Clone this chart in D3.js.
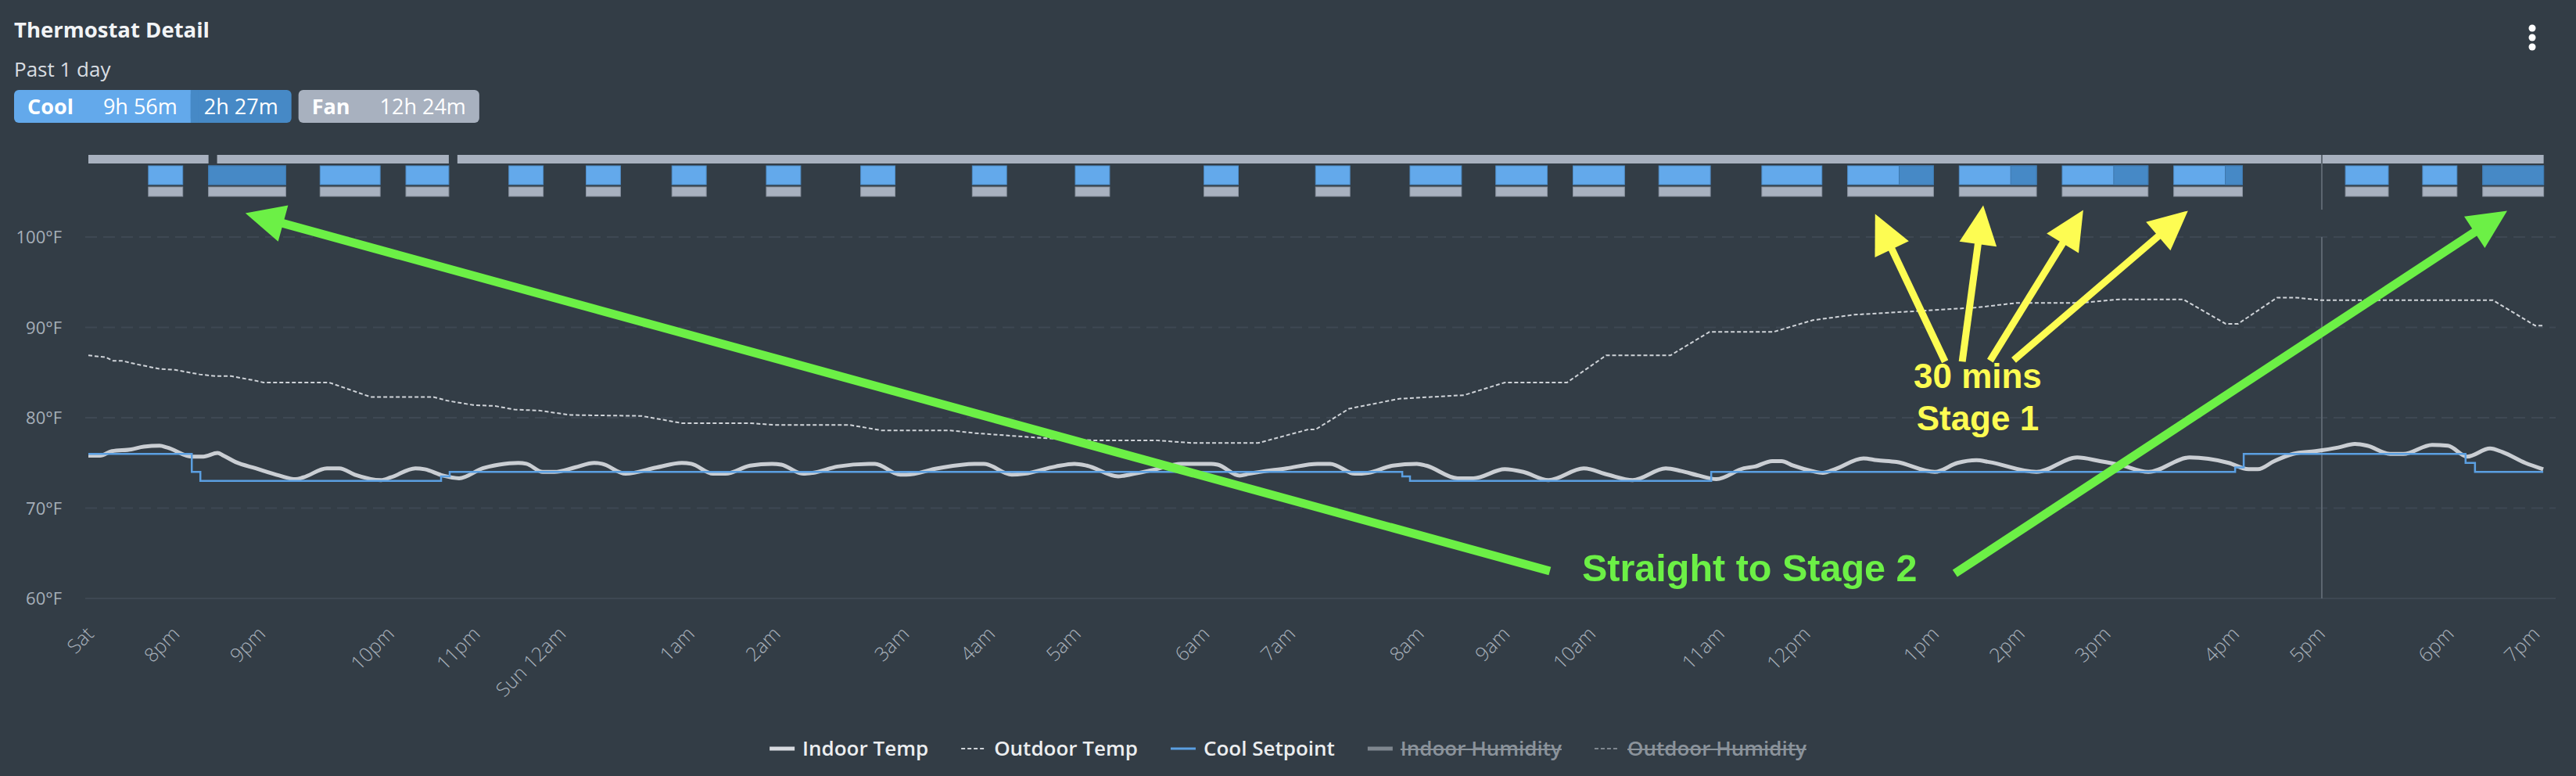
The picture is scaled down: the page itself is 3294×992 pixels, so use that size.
<!DOCTYPE html>
<html>
<head>
<meta charset="utf-8">
<script src="https://cdn.jsdelivr.net/npm/d3@7"></script>
<style>
  html, body { margin: 0; padding: 0; background: #333d46; }
  svg { display: block; font-family: "Open Sans", sans-serif; }
</style>
</head>
<body>
<div id="myViz"></div>
<script>
// ---- data (x values are positions along the time axis, in axis steps) ----
var tickSlots = [0, 2, 4, 7, 9, 11, 14, 16, 19, 21, 23, 26, 28, 31, 33, 35, 38, 40, 43, 45, 47, 50, 52, 55, 57];
var tickLabels = ["Sat", "8pm", "9pm", "10pm", "11pm", "Sun 12am", "1am", "2am", "3am", "4am", "5am", "6am",
                  "7am", "8am", "9am", "10am", "11am", "12pm", "1pm", "2pm", "3pm", "4pm", "5pm", "6pm", "7pm"];
var tempTicks = [60, 70, 80, 90, 100];

var indoorTemp = [
  [0, 75.8], [0.27, 75.8], [0.55, 76.3], [1.00, 76.5], [1.29, 76.8], [1.66, 76.9], [1.84, 76.7], [2.41, 75.7],
  [2.68, 75.7], [3.01, 76.1], [3.15, 75.8], [3.43, 75.1], [3.90, 74.4], [4.45, 73.6], [4.83, 73.2], [5.01, 73.4],
  [5.56, 74.4], [5.85, 74.4], [6.21, 73.7], [6.82, 73.1], [7.05, 73.4], [7.62, 74.4], [7.84, 74.3], [8.26, 73.6],
  [8.64, 73.3], [9.19, 74.4], [9.57, 74.8], [10.02, 75.0], [10.21, 74.9], [10.59, 74.0], [10.86, 74.0], [11.34, 74.5],
  [11.79, 75.0], [11.97, 74.9], [12.52, 73.8], [13.25, 74.5], [13.83, 75.0], [14.05, 74.9], [14.56, 73.8], [14.85, 73.8],
  [15.42, 74.7], [15.93, 74.9], [16.15, 74.8], [16.66, 73.8], [16.88, 73.9], [17.46, 74.6], [18.19, 74.9], [18.33, 74.9],
  [18.92, 73.7], [19.06, 73.7], [19.79, 74.4], [20.65, 74.9], [20.87, 74.9], [21.52, 73.7], [21.82, 73.8], [22.54, 74.6],
  [22.98, 74.9], [23.27, 74.7], [24.00, 73.5], [24.15, 73.6], [24.88, 74.3], [25.46, 74.9], [26.17, 74.9], [26.32, 74.8],
  [26.83, 73.6], [27.05, 73.8], [27.92, 74.4], [28.65, 74.9], [28.94, 74.9], [29.52, 73.8], [29.82, 73.9], [30.40, 74.7],
  [30.96, 74.9], [31.18, 74.7], [31.91, 73.3], [32.28, 73.3], [33.01, 74.3], [33.44, 74.0], [34.03, 73.1], [34.85, 74.4],
  [35.41, 73.7], [35.99, 73.1], [36.76, 74.4], [37.12, 74.1], [37.53, 73.6], [37.94, 73.2], [38.58, 74.4], [38.84, 74.6],
  [39.24, 75.2], [39.46, 75.2], [39.73, 74.7], [40.17, 74.1], [40.42, 73.9], [40.70, 74.3], [41.37, 75.5], [41.68, 75.3],
  [42.14, 75.1], [43.03, 74.0], [43.56, 75.0], [44.00, 75.3], [44.29, 75.1], [45.40, 74.0], [46.35, 75.6], [46.88, 75.2],
  [47.33, 74.8], [48.01, 74.0], [48.97, 75.6], [49.88, 75.0], [50.34, 74.3], [50.56, 74.3], [50.94, 75.2], [51.38, 76.0],
  [51.90, 76.3], [52.43, 76.7], [52.82, 77.1], [53.11, 76.9], [53.64, 76.0], [53.95, 76.0], [54.62, 77.0], [54.99, 76.9],
  [55.44, 75.7], [55.97, 76.6], [56.26, 76.2], [56.79, 75.0], [57.21, 74.3]
];

var outdoorTemp = [
  [0, 86.9], [0.40, 86.7], [0.58, 86.3], [0.78, 86.3], [1.15, 85.9], [1.66, 85.4], [2.02, 85.3], [2.59, 84.8],
  [2.97, 84.6], [3.33, 84.6], [3.90, 84.1], [4.08, 83.9], [5.61, 83.9], [6.58, 82.3], [8.04, 82.3], [8.35, 81.9],
  [8.97, 81.4], [9.48, 81.3], [9.93, 80.9], [10.50, 80.8], [11.24, 80.3], [12.89, 80.2], [13.83, 79.4], [15.42, 79.4],
  [16.00, 79.2], [17.75, 79.2], [18.48, 78.6], [20.08, 78.6], [20.65, 78.3], [21.52, 78.0], [22.40, 77.7], [23.42, 77.5],
  [24.88, 77.5], [25.73, 77.2], [27.26, 77.2], [28.43, 78.7], [28.60, 78.7], [29.38, 81.0], [30.55, 82.1], [32.06, 82.5],
  [33.01, 83.9], [34.46, 83.9], [35.37, 86.9], [36.87, 86.9], [37.78, 89.5], [39.27, 89.5], [40.19, 90.8], [41.15, 91.4],
  [42.96, 91.9], [44.01, 92.2], [44.93, 92.7], [46.42, 92.7], [47.33, 93.1], [48.82, 93.1], [49.81, 90.4], [50.10, 90.4],
  [51.01, 93.3], [51.45, 93.3], [52.05, 93.0], [56.04, 93.0], [57.02, 90.2], [57.21, 90.2]
];

var coolSetpoint = [
  [0, 76], [2.41, 74], [2.61, 73], [8.22, 73.5], [8.42, 74], [30.62, 73.5], [30.80, 73], [37.82, 74],
  [50.03, 74.5], [50.23, 76], [55.40, 75], [55.62, 74], [57.21, 74]
];

// equipment runtime
var fanStart = [0, 3.0, 8.6];
var fanEnd = [2.8, 8.4, 57.22];
var coolStart = [1.4, 2.8, 5.4, 7.4, 9.8, 11.6, 13.6, 15.8, 18.0, 20.6, 23.0, 26.0, 28.6, 30.8, 32.8, 34.6, 36.6,
                 39.0, 41.0, 43.6, 46.0, 48.6, 52.6, 54.4, 55.8];
var coolEnd = [2.2, 4.6, 6.8, 8.4, 10.6, 12.4, 14.4, 16.6, 18.8, 21.4, 23.8, 26.8, 29.4, 32.0, 34.0, 35.8, 37.8,
               40.4, 43.0, 45.4, 48.0, 50.2, 53.6, 55.2, 57.22];
// where stage 2 kicked in within each cool cycle (null = stage 1 only)
var stage2Start = [null, 2.8, null, null, null, null, null, null, null, null, null, null, null, null, null, null, null,
                   null, 42.2, 44.8, 47.2, 49.8, null, null, 55.8];

var nowSlot = 52.05;

var runtimeSummary = {cool1: "9h 56m", cool2: "2h 27m", fan: "12h 24m"};

var legendNames = ["Indoor Temp", "Outdoor Temp", "Cool Setpoint", "Indoor Humidity", "Outdoor Humidity"];
var legendHidden = [false, false, false, true, true];

// callouts drawn on top of the chart, in chart units [slot, temp]
var greenArrows = [[[34.06, 63.03], [3.66, 102.65]], [[43.50, 62.77], [56.37, 102.91]]];
var yellowArrows = [[[43.27, 86.21], [41.64, 102.56]], [[43.67, 86.21], [44.16, 103.51]],
                    [[44.32, 86.30], [46.49, 102.99]], [[44.87, 86.38], [48.93, 102.91]]];
var greenNote = {text: "Straight to Stage 2", at: [34.81, 61.9]};
var yellowNote = {lines: ["30 mins", "Stage 1"], at: [44.03, 83.27], lineGap: 54};

// ---- layout ----
var W = 3294, H = 992;
var plotLeft = 113, plotRight = 3268, plotBottom = 765, plotTop = 303;
var C = {
  bg: "#333d46", grid: "#3e4853", axisText: "#a7b0ba", light: "#63a9eb", dark: "#4689c6",
  grey: "#a8b1bf", indoor: "#d7dadf", outdoor: "#cfd3d8", setpoint: "#5b9fe1", now: "#5d6771"
};

var svg = d3.select("#myViz").append("svg")
  .attr("width", W).attr("height", H)
  .style("background", C.bg);

var x = d3.scaleLinear().domain([0, 57.5]).range([plotLeft, plotRight]);
var y = d3.scaleLinear().domain([60, 100]).range([plotBottom, plotTop]);

// header
svg.append("text").attr("x", 18).attr("y", 48)
  .attr("font-size", 27.5).attr("font-weight", 700).attr("fill", "#f2f4f6")
  .text("Thermostat Detail");
svg.append("text").attr("x", 18).attr("y", 98)
  .attr("font-size", 26).attr("fill", "#d9dde2")
  .text("Past 1 day");

// runtime pills
var pills = svg.append("g").attr("font-size", 27).attr("fill", "#fff");
function pillText(txt, px, bold) {
  var t = pills.append("text").attr("x", px).attr("y", 146).attr("font-weight", bold ? 700 : 400).text(txt);
  return t.node().getComputedTextLength();
}
var pillY = 115, pillH = 42, pad = 17, gap = 38;
var cx0 = 18;
var coolBg = pills.append("rect").attr("y", pillY).attr("height", pillH).attr("rx", 6).attr("fill", C.light);
var darkBg = pills.append("rect").attr("y", pillY).attr("height", pillH).attr("rx", 6).attr("fill", C.dark);
var darkSq = pills.append("rect").attr("y", pillY).attr("height", pillH).attr("fill", C.dark);
var w1 = pillText("Cool", cx0 + pad, true);
var v1x = cx0 + pad + w1 + gap;
var w2 = pillText(runtimeSummary.cool1, v1x, false);
var splitX = v1x + w2 + pad;
var w3 = pillText(runtimeSummary.cool2, splitX + pad, false);
var coolEndX = splitX + pad + w3 + pad;
coolBg.attr("x", cx0).attr("width", splitX - cx0 + 8);
darkBg.attr("x", splitX).attr("width", coolEndX - splitX);
darkSq.attr("x", splitX).attr("width", 10);
var fx0 = coolEndX + 9;
var fanBg = pills.append("rect").attr("y", pillY).attr("height", pillH).attr("rx", 6).attr("fill", C.grey);
var w4 = pillText("Fan", fx0 + pad, true);
var w5 = pillText(runtimeSummary.fan, fx0 + pad + w4 + gap, false);
fanBg.attr("x", fx0).attr("width", pad + w4 + gap + w5 + pad);
pills.selectAll("text").raise();

// menu dots
svg.append("g").selectAll("circle").data([36, 48, 60]).join("circle")
  .attr("cx", 3238).attr("cy", d => d).attr("r", 4.5).attr("fill", "#fff");

// equipment rows
var rows = {fan: [198, 11], cool: [212, 24], call: [239, 12]};
var bars = svg.append("g");
bars.selectAll(".fan").data(fanStart).join("rect")
  .attr("x", d => x(d)).attr("width", (d, i) => x(fanEnd[i]) - x(d))
  .attr("y", rows.fan[0]).attr("height", rows.fan[1]).attr("fill", C.grey);
bars.selectAll(".cool").data(coolStart).join("rect")
  .attr("x", d => x(d)).attr("width", (d, i) => x(coolEnd[i]) - x(d))
  .attr("y", rows.cool[0]).attr("height", rows.cool[1]).attr("fill", C.light)
  .attr("stroke", "#4f8dc7").attr("stroke-width", 1);
bars.selectAll(".stage2").data(coolStart.map((d, i) => i).filter(i => stage2Start[i] != null)).join("rect")
  .attr("x", i => x(stage2Start[i])).attr("width", i => x(coolEnd[i]) - x(stage2Start[i]))
  .attr("y", rows.cool[0]).attr("height", rows.cool[1]).attr("fill", C.dark)
  .attr("stroke", "#3f78ad").attr("stroke-width", 1);
bars.selectAll(".call").data(coolStart).join("rect")
  .attr("x", d => x(d)).attr("width", (d, i) => x(coolEnd[i]) - x(d))
  .attr("y", rows.call[0]).attr("height", rows.call[1]).attr("fill", C.grey)
  .attr("stroke", "#8a93a0").attr("stroke-width", 1);

// grid
var grid = svg.append("g");
grid.selectAll("line").data(tempTicks).join("line")
  .attr("x1", plotLeft - 4).attr("x2", plotRight)
  .attr("y1", d => y(d)).attr("y2", d => y(d))
  .attr("stroke", C.grid).attr("stroke-width", 2)
  .attr("stroke-dasharray", d => d === 60 ? null : "15,8");

// y axis
var yAxis = svg.append("g").attr("transform", `translate(${plotLeft},0)`)
  .call(d3.axisLeft(y).tickValues(tempTicks).tickFormat(d => d + "°F").tickSize(0).tickPadding(34));
yAxis.select(".domain").remove();
yAxis.attr("font-family", null).attr("font-size", 22);
yAxis.selectAll("text").attr("fill", "#a6afb9").attr("dy", "0.36em");

// x axis
var xAxis = svg.append("g").attr("transform", `translate(0,${plotBottom})`)
  .call(d3.axisBottom(x).tickValues(tickSlots).tickFormat((d, i) => tickLabels[i]).tickSize(0));
xAxis.select(".domain").remove();
xAxis.attr("font-family", null).attr("font-size", 25);
xAxis.selectAll("text")
  .attr("fill", C.axisText).attr("font-weight", 300)
  .attr("y", 0).attr("dy", 0).attr("text-anchor", "end")
  .attr("transform", "translate(8,47) rotate(-45)");

// now marker
svg.append("g").selectAll("line").data([[198, 268], [303, plotBottom]]).join("line")
  .attr("x1", x(nowSlot)).attr("x2", x(nowSlot))
  .attr("y1", d => d[0]).attr("y2", d => d[1])
  .attr("stroke", C.now).attr("stroke-width", 2);

// series
svg.append("path").datum(outdoorTemp)
  .attr("d", d3.line().x(d => x(d[0])).y(d => y(d[1])))
  .attr("fill", "none").attr("stroke", C.outdoor).attr("stroke-width", 2).attr("stroke-dasharray", "5,3");
svg.append("path").datum(indoorTemp)
  .attr("d", d3.line().x(d => x(d[0])).y(d => y(d[1])).curve(d3.curveMonotoneX))
  .attr("fill", "none").attr("stroke", C.indoor).attr("stroke-width", 5)
  .attr("stroke-linejoin", "round").attr("stroke-opacity", 0.92);
svg.append("path").datum(coolSetpoint)
  .attr("d", d3.line().x(d => x(d[0])).y(d => y(d[1])).curve(d3.curveStepAfter))
  .attr("fill", "none").attr("stroke", C.setpoint).attr("stroke-width", 2.5);

// legend
var legend = svg.append("g").attr("font-size", 26).attr("font-weight", 600);
var lx = 0;
var swatchStyles = [
  {w: 5, dash: null}, {w: 2, dash: "5,3"}, {w: 3, dash: null}, {w: 5, dash: null}, {w: 2, dash: "5,3"}
];
var swatchColors = [C.indoor, C.outdoor, C.setpoint, "#7f878f", "#7f878f"];
legendNames.forEach(function(name, i) {
  var g = legend.append("g").attr("transform", `translate(${lx},0)`);
  g.append("line").attr("x1", 0).attr("x2", 32).attr("y1", 0).attr("y2", 0)
    .attr("stroke", swatchColors[i]).attr("stroke-width", swatchStyles[i].w)
    .attr("stroke-dasharray", swatchStyles[i].dash);
  var t = g.append("text").attr("x", 42).attr("y", 9)
    .attr("fill", legendHidden[i] ? "#8b939b" : "#eceef0").text(name);
  var tw = t.node().getComputedTextLength();
  if (legendHidden[i]) {
    g.append("line").attr("x1", 42).attr("x2", 42 + tw).attr("y1", 1).attr("y2", 1)
      .attr("stroke", "#8b939b").attr("stroke-width", 2);
  }
  lx += 42 + tw + 42;
});
lx -= 42;
legend.attr("transform", `translate(${W / 2 - lx / 2},957)`);

// callouts
var notes = svg.append("g").attr("font-family", "'Liberation Sans', Arial, sans-serif").attr("font-weight", 700);
function arrow(g, pair, color, shaft) {
  var p0 = [x(pair[0][0]), y(pair[0][1])], p1 = [x(pair[1][0]), y(pair[1][1])];
  var dx = p1[0] - p0[0], dy = p1[1] - p0[1], len = Math.hypot(dx, dy);
  var ux = dx / len, uy = dy / len, L = 50, hw = 24;
  var bx = p1[0] - ux * L, by = p1[1] - uy * L;
  g.append("line").attr("x1", p0[0]).attr("y1", p0[1]).attr("x2", bx + ux * 4).attr("y2", by + uy * 4)
    .attr("stroke", color).attr("stroke-width", shaft);
  g.append("path")
    .attr("d", d3.line()([p1, [bx - uy * hw, by + ux * hw], [bx + uy * hw, by - ux * hw]]) + "Z")
    .attr("fill", color);
}
greenArrows.forEach(p => arrow(notes, p, "#6cf046", 11));
yellowArrows.forEach(p => arrow(notes, p, "#fdfc52", 9));
notes.append("text").attr("x", x(greenNote.at[0])).attr("y", y(greenNote.at[1]))
  .attr("font-size", 48.5).attr("fill", "#6cf046").text(greenNote.text);
notes.selectAll(".ynote").data(yellowNote.lines).join("text")
  .attr("x", x(yellowNote.at[0])).attr("y", (d, i) => y(yellowNote.at[1]) + i * yellowNote.lineGap)
  .attr("text-anchor", "middle").attr("font-size", 44).attr("fill", "#fdfc52").text(d => d);
</script>
</body>
</html>
